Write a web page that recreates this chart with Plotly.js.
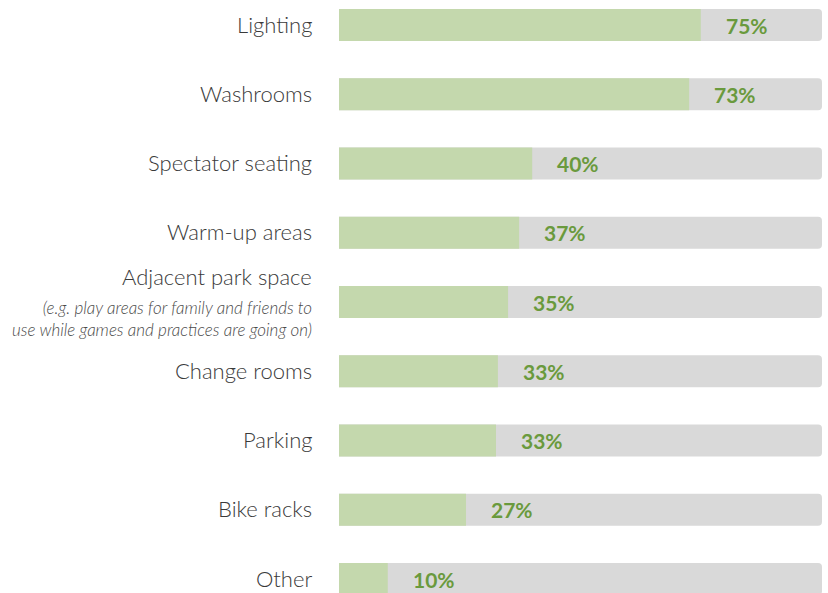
<!DOCTYPE html>
<html>
<head>
<meta charset="utf-8">
<script src="https://cdn.plot.ly/plotly-3.0.1.min.js"></script>
<style>html,body{margin:0;padding:0;background:#fff;}#chart{width:828px;height:593px;}</style>
</head>
<body>
<div id="chart"></div>
<script>
const categories = ["Lighting", "Washrooms", "Spectator seating", "Warm-up areas", "Adjacent park space", "Change rooms", "Parking", "Bike racks", "Other"];
const subtitles = ["", "", "", "", "(e.g. play areas for family and friends to<br>use while games and practices are going on)", "", "", "", ""];
const values = [74.9, 72.5, 40.0, 37.3, 35.0, 32.9, 32.5, 26.3, 10.1];
const valueLabels = ["75%", "73%", "40%", "37%", "35%", "33%", "33%", "27%", "10%"];
const fullScale = 100;

const idx = categories.map((_, i) => i);

const bgTrace = {
  type: "bar", orientation: "h",
  x: categories.map(() => fullScale), y: idx,
  width: 0.462,
  marker: {color: "#d9d9d9", cornerradius: 4},
  hoverinfo: "skip", showlegend: false
};
const fgTrace = {
  type: "bar", orientation: "h",
  x: values, y: idx,
  width: 0.462,
  marker: {color: "#c4d8ad", cornerradius: 4},
  hoverinfo: "skip", showlegend: false
};

const annotations = [];
categories.forEach((c, i) => {
  const hasSub = subtitles[i] !== "";
  annotations.push({
    xref: "paper", yref: "y", x: 0, y: i,
    xanchor: "right", yanchor: "middle", xshift: -25,
    yshift: hasSub ? 26 : 1,
    text: c, showarrow: false,
    font: {family: "Lato", size: 22, color: "#3a3a3a", weight: 300}
  });
  if (hasSub) {
    annotations.push({
      xref: "paper", yref: "y", x: 0, y: i,
      xanchor: "right", yanchor: "middle", xshift: -25, yshift: -16,
      align: "right",
      text: "<i>" + subtitles[i] + "</i>", showarrow: false,
      font: {family: "Lato", size: 17, color: "#4a4a4a", weight: 300}
    });
  }
  annotations.push({
    xref: "x", yref: "y", x: values[i], y: i,
    xanchor: "left", yanchor: "middle", xshift: 23, yshift: 0,
    text: "<b>" + valueLabels[i] + "</b>", showarrow: false,
    font: {family: "Lato", size: 21, color: "#6a9a3d", weight: 900}
  });
});

const layout = {
  width: 828, height: 593,
  margin: {l: 339, r: 6, t: 0, b: 0, pad: 0},
  paper_bgcolor: "#ffffff", plot_bgcolor: "#ffffff",
  barmode: "overlay",
  xaxis: {range: [0, fullScale], visible: false, fixedrange: true},
  yaxis: {range: [8.202, -0.361], visible: false, fixedrange: true},
  annotations: annotations,
  showlegend: false
};

Plotly.newPlot("chart", [bgTrace, fgTrace], layout, {displayModeBar: false, staticPlot: true});
</script>
</body>
</html>
